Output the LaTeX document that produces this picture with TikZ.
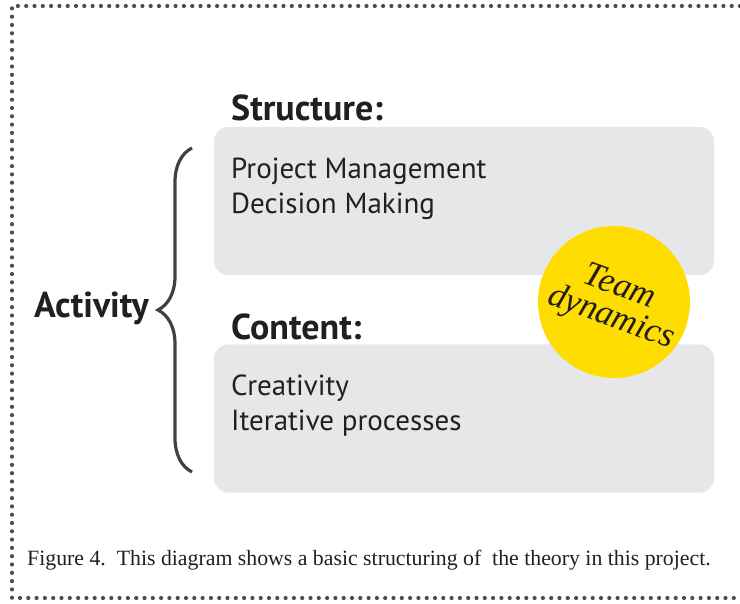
\documentclass[tikz,border=0pt]{standalone}
\usepackage{fontspec}
\setsansfont{PT Sans}
\setmainfont{Liberation Serif}
\usetikzlibrary{decorations.pathreplacing}
\definecolor{boxgray}{HTML}{E6E7E8}
\definecolor{inkdark}{HTML}{231F20}
\definecolor{bracegray}{HTML}{414042}
\definecolor{dotgray}{HTML}{4D4D4F}
\definecolor{teamyellow}{HTML}{FFDD00}

\begin{document}
\begin{tikzpicture}[x=1pt,y=-1pt,
  box/.style={fill=boxgray, rounded corners=14pt, minimum width=500pt,
    minimum height=148pt, inner sep=0pt},
  heading/.style={anchor=base west, inner sep=0pt, text=inkdark,
    font=\sffamily\bfseries\fontsize{36}{38}\selectfont},
  itemline/.style={anchor=base west, inner sep=0pt, text=inkdark,
    font=\sffamily\fontsize{29}{35}\selectfont},
  teamline/.style={rotate=-20, inner sep=0pt, text=inkdark,
    font=\rmfamily\itshape\fontsize{35}{35}\selectfont}]
\useasboundingbox (0,0) rectangle (740,604);
% frame
\draw [dotgray, line width=4.2pt, line cap=round, dash pattern=on 0pt off 8.3pt]
  (740,6) -- (12,6) -- (12,598) -- (740,598);
% boxes
\node [box] (structbox) at (464,201) {};
\node [box] (contentbox) at (464,418.5) {};
% headings and items
\node [heading] (structure) at (231,121) {Structure:};
\node [itemline] (pm) at (231,179) {Project Management};
\node [itemline] (dm) at (231,214) {Decision Making};
\node [heading] (content) at (231,340) {Content:};
\node [itemline] (cr) at (231,396) {Creativity};
\node [itemline] (ip) at (231,431) {Iterative processes};
% activity and brace
\node [heading, anchor=east] (activity) at (149,308) {Activity};
\coordinate (bracebot) at (192,472);
\coordinate (bracetop) at (192,148);
\draw [bracegray, line width=3.2pt, decorate,
  decoration={brace, amplitude=34pt}] (bracebot) -- (bracetop);
% team dynamics
\node [circle, fill=teamyellow, minimum size=152pt, inner sep=0pt] (team) at (614,302) {};
\node [teamline] (teamword) at (620,285) {Team};
\node [teamline] (dynword) at (611,318) {dynamics};
% caption
\node [anchor=base west, inner sep=0pt, text=inkdark,
  font=\rmfamily\fontsize{21.8}{24}\selectfont] (caption) at (27,565)
  {Figure 4.\ \ This diagram shows a basic structuring of \ the theory in this project.};
\end{tikzpicture}
\end{document}
